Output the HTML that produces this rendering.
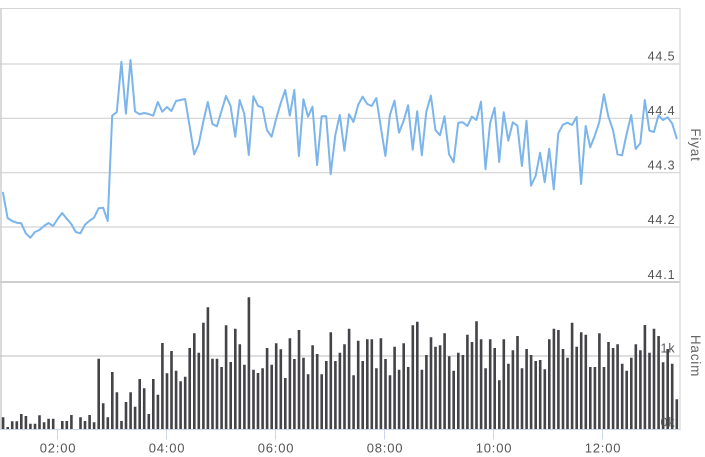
<!DOCTYPE html>
<html><head><meta charset="utf-8"><style>
html,body{margin:0;padding:0;background:#fff;}
svg{display:block;}
text{font-family:"Liberation Sans",sans-serif;}
</style></head><body>
<svg width="705" height="457" viewBox="0 0 705 457" xmlns="http://www.w3.org/2000/svg">
<rect width="705" height="457" fill="#fff"/>
<g stroke="#d3d3d3" stroke-width="1.2" fill="none">
<path d="M0 64H680M0 118.3H680M0 172.7H680M0 227H680"/>
</g>
<line x1="0" y1="282" x2="680" y2="282" stroke="#cfcfcf" stroke-width="2"/>
<line x1="0" y1="8.5" x2="680" y2="8.5" stroke="#d6d6d6" stroke-width="1"/>
<line x1="1" y1="8" x2="1" y2="430" stroke="#d0d0d0" stroke-width="1.6"/>
<line x1="680" y1="8" x2="680" y2="430" stroke="#d6d6d6" stroke-width="1.2"/>
<line x1="0" y1="356" x2="680" y2="356" stroke="#bdbdbd" stroke-width="1"/>
<path fill="none" stroke="#434348" stroke-width="2.6" d="M3.1 429.5V417.3M7.7 429.5V427M12.2 429.5V421.3M16.8 429.5V421.3M21.3 429.5V414M25.9 429.5V416M30.4 429.5V423.7M35 429.5V423.7M39.5 429.5V415.3M44.1 429.5V422.3M48.6 429.5V418.7M53.2 429.5V418.7M62.3 429.5V421M66.8 429.5V421M71.4 429.5V415M80.5 429.5V417.3M85 429.5V421M89.6 429.5V415M94.1 429.5V422.3M98.7 429.5V358.7M103.2 429.5V403.3M107.8 429.5V417.3M112.3 429.5V372M116.9 429.5V392.3M121.5 429.5V421M126 429.5V402M130.6 429.5V392.3M135.1 429.5V406.7M139.7 429.5V379M144.2 429.5V388.3M148.8 429.5V414M153.3 429.5V379M157.9 429.5V394.7M162.4 429.5V343M167 429.5V373.3M171.5 429.5V351M176.1 429.5V370.7M180.6 429.5V381.3M185.2 429.5V376.7M189.7 429.5V348M194.3 429.5V333.3M198.8 429.5V352.7M203.4 429.5V322.7M207.9 429.5V307.3M212.5 429.5V358.7M217 429.5V358.7M221.6 429.5V367M226.1 429.5V325.3M230.7 429.5V362M235.3 429.5V328.7M239.8 429.5V344.3M244.4 429.5V364.7M248.9 429.5V297.3M253.5 429.5V369.7M258 429.5V373M262.6 429.5V368.3M267.1 429.5V348M271.7 429.5V364.7M276.2 429.5V343.3M280.8 429.5V349.3M285.3 429.5V378M289.9 429.5V338.3M294.4 429.5V359M299 429.5V330M303.5 429.5V357.7M308.1 429.5V374.3M312.6 429.5V345.3M317.2 429.5V354M321.7 429.5V374.3M326.3 429.5V361M330.8 429.5V332.3M335.4 429.5V361M339.9 429.5V352.7M344.5 429.5V344.3M349.1 429.5V328.7M353.6 429.5V375.3M358.2 429.5V340.7M362.7 429.5V361M367.3 429.5V339.3M371.8 429.5V339.3M376.4 429.5V368.3M380.9 429.5V338.3M385.5 429.5V359M390 429.5V375.3M394.6 429.5V346.7M399.1 429.5V369.7M403.7 429.5V343.3M408.2 429.5V367M412.8 429.5V325.3M417.3 429.5V321.7M421.9 429.5V369.7M426.4 429.5V355M431 429.5V337.3M435.5 429.5V346.7M440.1 429.5V345.3M444.6 429.5V333.3M449.2 429.5V356.3M453.7 429.5V370.7M458.3 429.5V352.7M462.9 429.5V355M467.4 429.5V334.7M472 429.5V342M476.5 429.5V321.3M481.1 429.5V339.3M485.6 429.5V368.3M490.2 429.5V339.3M494.7 429.5V348M499.3 429.5V380.3M503.8 429.5V339.3M508.4 429.5V363.7M512.9 429.5V350.3M517.5 429.5V336M522 429.5V368.3M526.6 429.5V349M531.1 429.5V355M535.7 429.5V361M540.2 429.5V360M544.8 429.5V369.3M549.3 429.5V339.3M553.9 429.5V328.7M558.4 429.5V330M563 429.5V349M567.5 429.5V357.7M572.1 429.5V322.7M576.7 429.5V346.7M581.2 429.5V332.3M585.8 429.5V334.7M590.3 429.5V367M594.9 429.5V367M599.4 429.5V333.3M604 429.5V367M608.5 429.5V342M613.1 429.5V348M617.6 429.5V344.3M622.2 429.5V363.7M626.7 429.5V370.7M631.3 429.5V357.7M635.8 429.5V344.3M640.4 429.5V350.3M644.9 429.5V325M649.5 429.5V352.7M654 429.5V328.7M658.6 429.5V336M663.1 429.5V362.3M667.7 429.5V349M672.2 429.5V363.7M676.8 429.5V399.3"/>
<line x1="0" y1="429.5" x2="680" y2="429.5" stroke="#ccd6eb" stroke-width="1"/>
<path stroke="#ccd6eb" stroke-width="1" d="M57.5 429.5V439.5M166.5 429.5V439.5M275.5 429.5V439.5M384.5 429.5V439.5M493.5 429.5V439.5M602.5 429.5V439.5"/>
<polyline fill="none" stroke="#7cb5ec" stroke-width="2" stroke-linejoin="round" stroke-linecap="round" points="3,192.7 7.6,218 12.1,221 16.7,222.7 21.2,223.3 25.8,233.3 30.3,237.7 34.9,232 39.4,230 44,226 48.5,223 53.1,226 57.6,219 62.2,213 66.7,218.7 71.3,224 75.8,232 80.4,233.3 84.9,224.7 89.5,220.7 94,217.7 98.6,208.3 103.1,207.7 107.7,221 112.2,115.7 116.8,112 121.4,61.7 125.9,113.7 130.5,60 135,111.3 139.6,114.3 144.1,113 148.7,114 153.2,115.7 157.8,102 162.3,111.7 166.9,107 171.4,111 176,101 180.5,100 185.1,99 189.6,126 194.2,154.3 198.7,144.3 203.3,121.7 207.8,102 212.4,124 216.9,126.3 221.5,111 226,96 230.6,106 235.2,136.7 239.7,100 244.3,114 248.8,155 253.4,96.3 257.9,105.7 262.5,107.7 267,130.3 271.6,136.7 276.1,119 280.7,103.3 285.2,90 289.8,115.7 294.3,90 298.9,156 303.4,99.3 308,116.7 312.5,106.7 317.1,165 321.6,116.3 326.2,116.3 330.7,174 335.3,135 339.8,115 344.4,150.7 349,114.3 353.5,122 358.1,105 362.6,96.7 367.2,104 371.7,106 376.3,98 380.8,127 385.4,156 389.9,115 394.5,100.7 399,132.7 403.6,121 408.1,105.3 412.7,149.7 417.2,111.3 421.8,155.3 426.3,111.7 430.9,95.7 435.4,130 440,135.3 444.5,116.3 449.1,154.3 453.6,162.3 458.2,122.7 462.8,122.3 467.3,126 471.9,116.7 476.4,120 481,101.7 485.5,169.3 490.1,123 494.6,107.7 499.2,162 503.7,112.3 508.3,140.7 512.8,122.3 517.4,125.7 521.9,166 526.5,120.7 531,185.7 535.6,176 540.1,152.7 544.7,182.3 549.2,148.7 553.8,189.3 558.3,133.3 562.9,124.7 567.4,122.7 572,125 576.6,117 581.1,184 585.7,126 590.2,147.3 594.8,135.7 599.3,122 603.9,94.3 608.4,116.7 613,130 617.5,154.3 622.1,155.3 626.6,134 631.2,115 635.7,149 640.3,143.3 644.8,100 649.4,130.7 653.9,132 658.5,115.3 663,120 667.6,117.3 672.1,123.3 676.7,138.3"/>
<g fill="#555" font-size="12.5" text-anchor="end" letter-spacing="0.9">
<text x="675.5" y="60.5">44.5</text>
<text x="675.5" y="115">44.4</text>
<text x="675.5" y="169.5">44.3</text>
<text x="675.5" y="224">44.2</text>
<text x="675.5" y="279">44.1</text>
<text x="675.5" y="352.7">1k</text>
<text x="675.5" y="426.7">0k</text>
</g>
<g fill="#555" font-size="13" text-anchor="middle" letter-spacing="0.8">
<text x="58" y="452.5">02:00</text>
<text x="167" y="452.5">04:00</text>
<text x="276" y="452.5">06:00</text>
<text x="385" y="452.5">08:00</text>
<text x="494" y="452.5">10:00</text>
<text x="603" y="452.5">12:00</text>
</g>
<g fill="#666" font-size="13.5" letter-spacing="0.8" text-anchor="middle">
<text transform="translate(691,145) rotate(90)">Fiyat</text>
<text transform="translate(691,356) rotate(90)">Hacim</text>
</g>
</svg>
</body></html>
